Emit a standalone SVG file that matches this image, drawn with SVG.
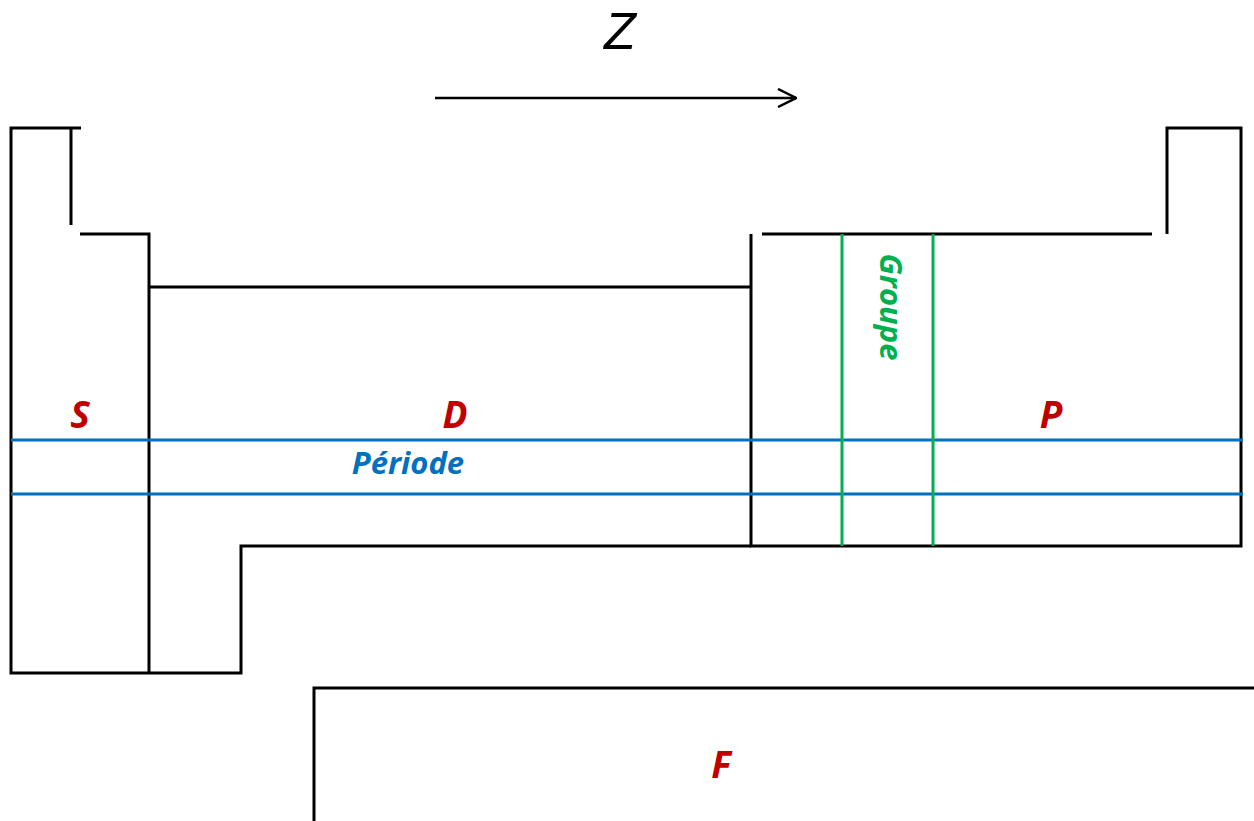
<svg xmlns="http://www.w3.org/2000/svg" width="1254" height="821" viewBox="0 0 1254 821">
<style>
.blk{fill:none;stroke:#000;stroke-width:3;stroke-linecap:butt;stroke-linejoin:miter}
.per{fill:none;stroke:#0070C0;stroke-width:3}
.grp{fill:none;stroke:#00B050;stroke-width:3}
.lbl{font-family:"Open Sans","Liberation Sans",sans-serif;font-style:italic;font-weight:700;fill:#C00000;font-size:37px;text-anchor:middle}
.blue{font-family:"Open Sans","Liberation Sans",sans-serif;font-style:italic;font-weight:700;fill:#0070C0;font-size:31px;text-anchor:middle}
.green{font-family:"Open Sans","Liberation Sans",sans-serif;font-style:italic;font-weight:700;fill:#00B050;font-size:31px;text-anchor:middle}
.z{font-family:"Liberation Sans",sans-serif;font-style:italic;font-weight:400;fill:#000;font-size:52px;text-anchor:middle}
</style>
<defs>
<marker id="arr" viewBox="0 0 20 20" refX="19" refY="10" markerWidth="20" markerHeight="20" markerUnits="userSpaceOnUse" orient="auto">
<path d="M1,1 L19,10 L1,19" fill="none" stroke="#000" stroke-width="2.5"/>
</marker>
</defs>
<rect width="1254" height="821" fill="#fff"/>
<g id="axis-z">
<text class="z" x="620" y="49">Z</text>
<line x1="435" y1="98" x2="796" y2="98" stroke="#000" stroke-width="2.5" marker-end="url(#arr)"/>
</g>
<g id="block-s">
<path class="blk" d="M81,128 H11 V673 H149"/>
<path class="blk" d="M71,128 V225"/>
<path class="blk" d="M80,234 H149 V673"/>
<text class="lbl" x="80" y="428">S</text>
</g>
<g id="block-d">
<path class="blk" d="M149,287 H751"/>
<path class="blk" d="M149,673 H241 V546 H751"/>
<text class="lbl" x="455" y="428">D</text>
</g>
<g id="block-p">
<path class="blk" d="M751,234 V546 H1241 V128 H1167 V234"/>
<path class="blk" d="M762,234 H1152"/>
<text class="lbl" x="1051" y="428">P</text>
</g>
<g id="block-f">
<path class="blk" d="M314,821 V688 H1254"/>
<text class="lbl" x="721" y="778">F</text>
</g>
<g id="periode">
<path class="per" d="M11,440 H1243 M11,494 H1243"/>
<text class="blue" x="408" y="474">Période</text>
</g>
<g id="groupe">
<path class="grp" d="M842,234 V546 M933,234 V546"/>
<text class="green" transform="translate(880,307) rotate(90)" x="0" y="0">Groupe</text>
</g>
</svg>
